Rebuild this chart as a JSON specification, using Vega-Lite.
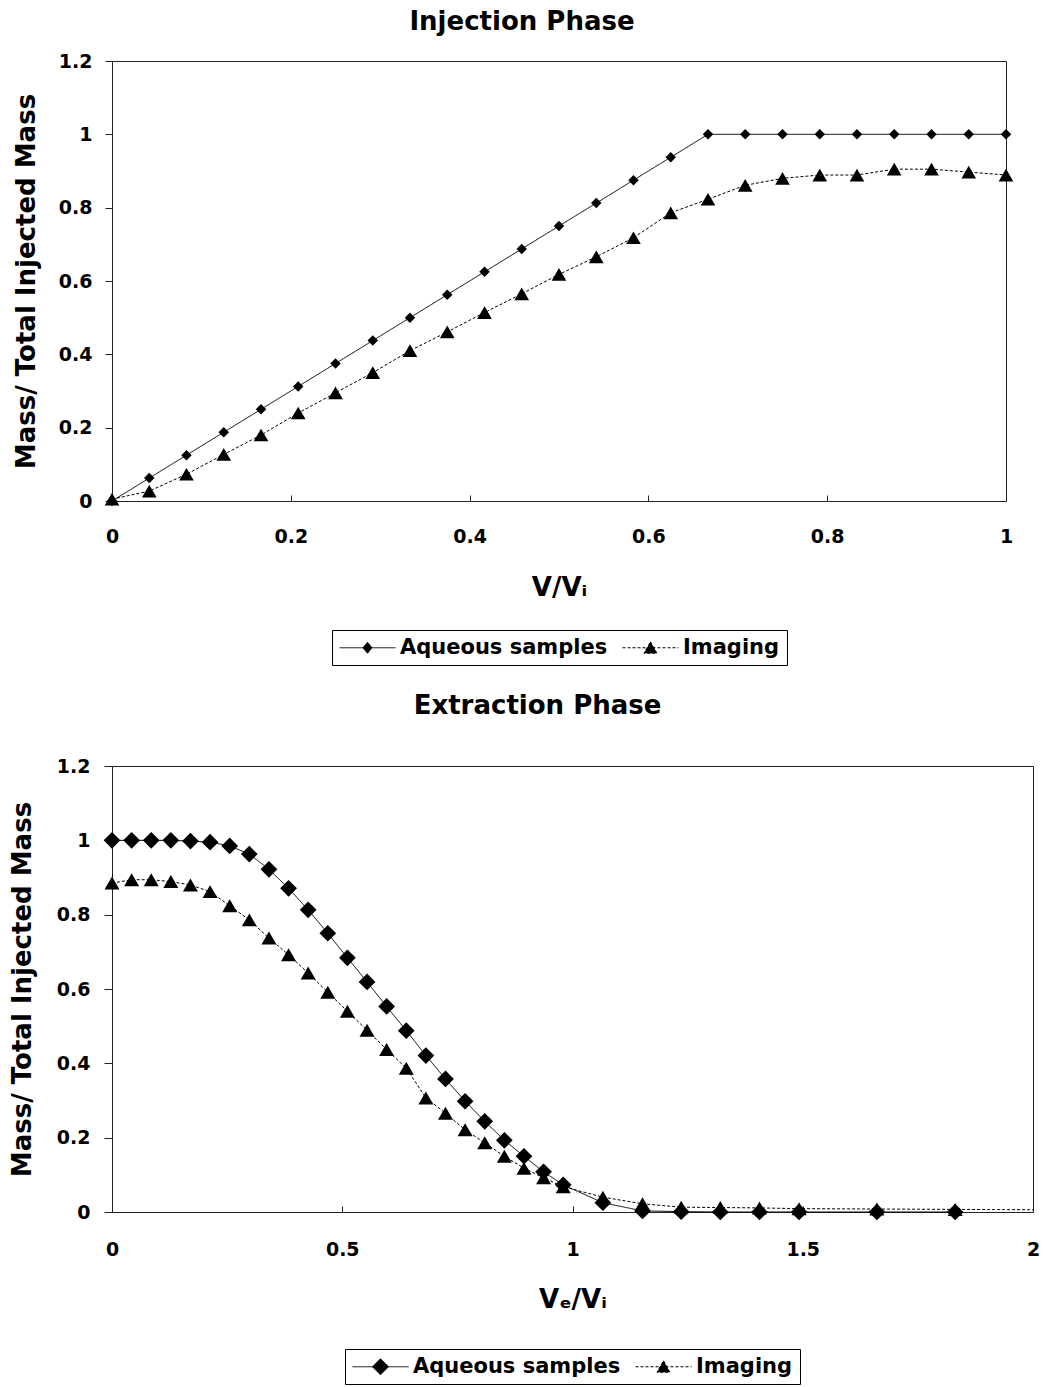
{
  "$schema": "https://vega.github.io/schema/vega-lite/v6.json",
  "padding": {"left": 8, "top": 8, "right": 6, "bottom": 0},
  "spacing": 26,
  "columns": 1,
  "align": "none",
  "background": "white",
  "resolve": {"scale": {"color": "independent", "strokeDash": "independent"}, "legend": {"color": "independent"}},
  "config": {
    "font": "DejaVu Sans",
    "view": {"stroke": "#222", "strokeWidth": 1},
    "axis": {"grid": false, "labelFont": "DejaVu Sans", "labelFontSize": 19, "labelFontWeight": "bold", "labelColor": "black", "titleFont": "DejaVu Sans", "titleFontSize": 26, "titleFontWeight": "bold", "titleColor": "black", "domainColor": "#222", "tickColor": "#222", "format": "~g"},
    "axisX": {"tickSize": -6, "labelPadding": 32, "titlePadding": 28, "labelFlush": false},
    "axisY": {"tickSize": 7, "labelPadding": 13, "titlePadding": 19},
    "title": {"font": "DejaVu Sans", "fontSize": 26, "fontWeight": "bold", "color": "black"},
    "legend": {"labelFont": "DejaVu Sans", "labelFontSize": 21, "labelFontWeight": "bold", "labelColor": "black", "labelLimit": 0, "strokeColor": "black", "padding": 7, "symbolSize": 400, "symbolOffset": 18, "labelOffset": 22, "columnPadding": 12, "offset": 30, "layout": {"bottom": {"anchor": "middle"}}}
  },
  "concat": [
    {
      "title": {"text": "Injection Phase", "offset": 17, "dx": -37},
      "width": 894,
      "height": 440,
      "data": {"values": [
        {"series": "Aqueous samples", "v": 0, "mass": 0},
        {"series": "Aqueous samples", "v": 0.0417, "mass": 0.0625},
        {"series": "Aqueous samples", "v": 0.0833, "mass": 0.125},
        {"series": "Aqueous samples", "v": 0.125, "mass": 0.1875},
        {"series": "Aqueous samples", "v": 0.1667, "mass": 0.25},
        {"series": "Aqueous samples", "v": 0.2083, "mass": 0.3125},
        {"series": "Aqueous samples", "v": 0.25, "mass": 0.375},
        {"series": "Aqueous samples", "v": 0.2917, "mass": 0.4375},
        {"series": "Aqueous samples", "v": 0.3333, "mass": 0.5},
        {"series": "Aqueous samples", "v": 0.375, "mass": 0.5625},
        {"series": "Aqueous samples", "v": 0.4167, "mass": 0.625},
        {"series": "Aqueous samples", "v": 0.4583, "mass": 0.6875},
        {"series": "Aqueous samples", "v": 0.5, "mass": 0.75},
        {"series": "Aqueous samples", "v": 0.5417, "mass": 0.8125},
        {"series": "Aqueous samples", "v": 0.5833, "mass": 0.875},
        {"series": "Aqueous samples", "v": 0.625, "mass": 0.9375},
        {"series": "Aqueous samples", "v": 0.6667, "mass": 1},
        {"series": "Aqueous samples", "v": 0.7083, "mass": 1},
        {"series": "Aqueous samples", "v": 0.75, "mass": 1},
        {"series": "Aqueous samples", "v": 0.7917, "mass": 1},
        {"series": "Aqueous samples", "v": 0.8333, "mass": 1},
        {"series": "Aqueous samples", "v": 0.875, "mass": 1},
        {"series": "Aqueous samples", "v": 0.9167, "mass": 1},
        {"series": "Aqueous samples", "v": 0.9583, "mass": 1},
        {"series": "Aqueous samples", "v": 1, "mass": 1},
        {"series": "Imaging", "v": 0, "mass": 0.005},
        {"series": "Imaging", "v": 0.0417, "mass": 0.027},
        {"series": "Imaging", "v": 0.0833, "mass": 0.073},
        {"series": "Imaging", "v": 0.125, "mass": 0.127},
        {"series": "Imaging", "v": 0.1667, "mass": 0.18},
        {"series": "Imaging", "v": 0.2083, "mass": 0.24},
        {"series": "Imaging", "v": 0.25, "mass": 0.295},
        {"series": "Imaging", "v": 0.2917, "mass": 0.35},
        {"series": "Imaging", "v": 0.3333, "mass": 0.41},
        {"series": "Imaging", "v": 0.375, "mass": 0.461},
        {"series": "Imaging", "v": 0.4167, "mass": 0.514},
        {"series": "Imaging", "v": 0.4583, "mass": 0.565},
        {"series": "Imaging", "v": 0.5, "mass": 0.618},
        {"series": "Imaging", "v": 0.5417, "mass": 0.666},
        {"series": "Imaging", "v": 0.5833, "mass": 0.718},
        {"series": "Imaging", "v": 0.625, "mass": 0.786},
        {"series": "Imaging", "v": 0.6667, "mass": 0.823},
        {"series": "Imaging", "v": 0.7083, "mass": 0.861},
        {"series": "Imaging", "v": 0.75, "mass": 0.88},
        {"series": "Imaging", "v": 0.7917, "mass": 0.889},
        {"series": "Imaging", "v": 0.8333, "mass": 0.889},
        {"series": "Imaging", "v": 0.875, "mass": 0.905},
        {"series": "Imaging", "v": 0.9167, "mass": 0.905},
        {"series": "Imaging", "v": 0.9583, "mass": 0.897},
        {"series": "Imaging", "v": 1, "mass": 0.889}
      ]},
      "encoding": {
        "x": {"field": "v", "type": "quantitative", "scale": {"domain": [0, 1], "nice": false}, "axis": {"title": "V/Vᵢ", "values": [0, 0.2, 0.4, 0.6, 0.8, 1]}},
        "y": {"field": "mass", "type": "quantitative", "scale": {"domain": [0, 1.2], "nice": false}, "axis": {"title": "Mass/ Total Injected Mass", "values": [0, 0.2, 0.4, 0.6, 0.8, 1, 1.2]}},
        "color": {"field": "series", "type": "nominal", "scale": {"domain": ["Aqueous samples", "Imaging"], "range": ["black", "black"]},
          "legend": {"title": null, "orient": "bottom", "direction": "horizontal",
            "encode": {"symbols": {"update": {
              "shape": {"signal": "datum.value === 'Imaging' ? 'M-2.8,0L2.8,0M0,-0.6L0.65,0.55L-0.65,0.55Z' : 'M-2.8,0L2.8,0M0,-0.55L0.45,0L0,0.55L-0.45,0Z'"},
              "strokeDash": {"signal": "datum.value === 'Imaging' ? [2, 2] : [1, 0]"},
              "fill": {"value": "black"}, "stroke": {"value": "black"}, "strokeWidth": {"value": 1}, "opacity": {"value": 1}, "fillOpacity": {"value": 1}, "size": {"value": 400}
            }}}}}
      },
      "layer": [
        {"mark": {"type": "line", "strokeWidth": 1},
         "encoding": {"strokeDash": {"field": "series", "type": "nominal", "scale": {"domain": ["Aqueous samples", "Imaging"], "range": [[1, 0], [3, 2]]}, "legend": null}}},
        {"transform": [{"filter": "datum.series === 'Aqueous samples'"}],
         "mark": {"type": "point", "filled": true, "shape": "diamond", "size": 110, "opacity": 1}},
        {"transform": [{"filter": "datum.series === 'Imaging'"}],
         "mark": {"type": "point", "filled": true, "shape": "triangle-up", "size": 215, "opacity": 1}}
      ]
    },
    {
      "title": {"text": "Extraction Phase", "offset": 38, "dx": -35},
      "width": 921,
      "height": 446,
      "data": {"values": [
        {"series": "Aqueous samples", "v": 0, "mass": 1},
        {"series": "Aqueous samples", "v": 0.0426, "mass": 1},
        {"series": "Aqueous samples", "v": 0.0852, "mass": 1},
        {"series": "Aqueous samples", "v": 0.1278, "mass": 1},
        {"series": "Aqueous samples", "v": 0.1704, "mass": 0.998},
        {"series": "Aqueous samples", "v": 0.213, "mass": 0.995},
        {"series": "Aqueous samples", "v": 0.2556, "mass": 0.985},
        {"series": "Aqueous samples", "v": 0.2982, "mass": 0.963},
        {"series": "Aqueous samples", "v": 0.3408, "mass": 0.922},
        {"series": "Aqueous samples", "v": 0.3834, "mass": 0.871},
        {"series": "Aqueous samples", "v": 0.426, "mass": 0.813},
        {"series": "Aqueous samples", "v": 0.4686, "mass": 0.75},
        {"series": "Aqueous samples", "v": 0.5112, "mass": 0.684},
        {"series": "Aqueous samples", "v": 0.5538, "mass": 0.619},
        {"series": "Aqueous samples", "v": 0.5964, "mass": 0.553},
        {"series": "Aqueous samples", "v": 0.639, "mass": 0.488},
        {"series": "Aqueous samples", "v": 0.6816, "mass": 0.421},
        {"series": "Aqueous samples", "v": 0.7242, "mass": 0.358},
        {"series": "Aqueous samples", "v": 0.7668, "mass": 0.298},
        {"series": "Aqueous samples", "v": 0.8094, "mass": 0.244},
        {"series": "Aqueous samples", "v": 0.852, "mass": 0.193},
        {"series": "Aqueous samples", "v": 0.8946, "mass": 0.15},
        {"series": "Aqueous samples", "v": 0.9372, "mass": 0.108},
        {"series": "Aqueous samples", "v": 0.9798, "mass": 0.073},
        {"series": "Aqueous samples", "v": 1.066, "mass": 0.025},
        {"series": "Aqueous samples", "v": 1.152, "mass": 0.003},
        {"series": "Aqueous samples", "v": 1.236, "mass": 0.001},
        {"series": "Aqueous samples", "v": 1.321, "mass": 0},
        {"series": "Aqueous samples", "v": 1.406, "mass": 0},
        {"series": "Aqueous samples", "v": 1.492, "mass": 0},
        {"series": "Aqueous samples", "v": 1.661, "mass": 0},
        {"series": "Aqueous samples", "v": 1.831, "mass": 0},
        {"series": "Imaging", "v": 0, "mass": 0.885},
        {"series": "Imaging", "v": 0.0426, "mass": 0.894},
        {"series": "Imaging", "v": 0.0852, "mass": 0.894},
        {"series": "Imaging", "v": 0.1278, "mass": 0.889},
        {"series": "Imaging", "v": 0.1704, "mass": 0.88},
        {"series": "Imaging", "v": 0.213, "mass": 0.862},
        {"series": "Imaging", "v": 0.2556, "mass": 0.824},
        {"series": "Imaging", "v": 0.2982, "mass": 0.786},
        {"series": "Imaging", "v": 0.3408, "mass": 0.737},
        {"series": "Imaging", "v": 0.3834, "mass": 0.692},
        {"series": "Imaging", "v": 0.426, "mass": 0.643},
        {"series": "Imaging", "v": 0.4686, "mass": 0.591},
        {"series": "Imaging", "v": 0.5112, "mass": 0.54},
        {"series": "Imaging", "v": 0.5538, "mass": 0.489},
        {"series": "Imaging", "v": 0.5964, "mass": 0.437},
        {"series": "Imaging", "v": 0.639, "mass": 0.387},
        {"series": "Imaging", "v": 0.6816, "mass": 0.307},
        {"series": "Imaging", "v": 0.7242, "mass": 0.266},
        {"series": "Imaging", "v": 0.7668, "mass": 0.221},
        {"series": "Imaging", "v": 0.8094, "mass": 0.186},
        {"series": "Imaging", "v": 0.852, "mass": 0.15},
        {"series": "Imaging", "v": 0.8946, "mass": 0.118},
        {"series": "Imaging", "v": 0.9372, "mass": 0.092},
        {"series": "Imaging", "v": 0.9798, "mass": 0.068},
        {"series": "Imaging", "v": 1.066, "mass": 0.04},
        {"series": "Imaging", "v": 1.152, "mass": 0.022},
        {"series": "Imaging", "v": 1.236, "mass": 0.013},
        {"series": "Imaging", "v": 1.321, "mass": 0.012},
        {"series": "Imaging", "v": 1.406, "mass": 0.011},
        {"series": "Imaging", "v": 1.492, "mass": 0.009},
        {"series": "Imaging", "v": 1.661, "mass": 0.008},
        {"series": "Imaging", "v": 1.831, "mass": 0.007},
        {"series": "Imaging", "v": 2, "mass": 0.006}
      ]},
      "encoding": {
        "x": {"field": "v", "type": "quantitative", "scale": {"domain": [0, 2], "nice": false}, "axis": {"title": "Vₑ/Vᵢ", "values": [0, 0.5, 1, 1.5, 2], "labelPadding": 34, "titlePadding": 27}},
        "y": {"field": "mass", "type": "quantitative", "scale": {"domain": [0, 1.2], "nice": false}, "axis": {"title": "Mass/ Total Injected Mass", "values": [0, 0.2, 0.4, 0.6, 0.8, 1, 1.2], "labelPadding": 14, "titlePadding": 21, "tickSize": 8}},
        "color": {"field": "series", "type": "nominal", "scale": {"domain": ["Aqueous samples", "Imaging"], "range": ["black", "black"]},
          "legend": {"title": null, "orient": "bottom", "direction": "horizontal", "offset": 37,
            "encode": {"symbols": {"update": {
              "shape": {"signal": "datum.value === 'Imaging' ? 'M-2.8,0L2.8,0M0,-0.6L0.65,0.55L-0.65,0.55Z' : 'M-2.8,0L2.8,0M0,-0.8L0.8,0L0,0.8L-0.8,0Z'"},
              "strokeDash": {"signal": "datum.value === 'Imaging' ? [2, 2] : [1, 0]"},
              "fill": {"value": "black"}, "stroke": {"value": "black"}, "strokeWidth": {"value": 1}, "opacity": {"value": 1}, "fillOpacity": {"value": 1}, "size": {"value": 400}
            }}}}}
      },
      "layer": [
        {"mark": {"type": "line", "strokeWidth": 1},
         "encoding": {"strokeDash": {"field": "series", "type": "nominal", "scale": {"domain": ["Aqueous samples", "Imaging"], "range": [[1, 0], [3, 2]]}, "legend": null}}},
        {"transform": [{"filter": "datum.series === 'Aqueous samples'"}],
         "mark": {"type": "point", "filled": true, "shape": "diamond", "size": 280, "opacity": 1}},
        {"transform": [{"filter": "datum.series === 'Imaging' && datum.v < 1.95"}],
         "mark": {"type": "point", "filled": true, "shape": "triangle-up", "size": 225, "opacity": 1}}
      ]
    }
  ]
}
